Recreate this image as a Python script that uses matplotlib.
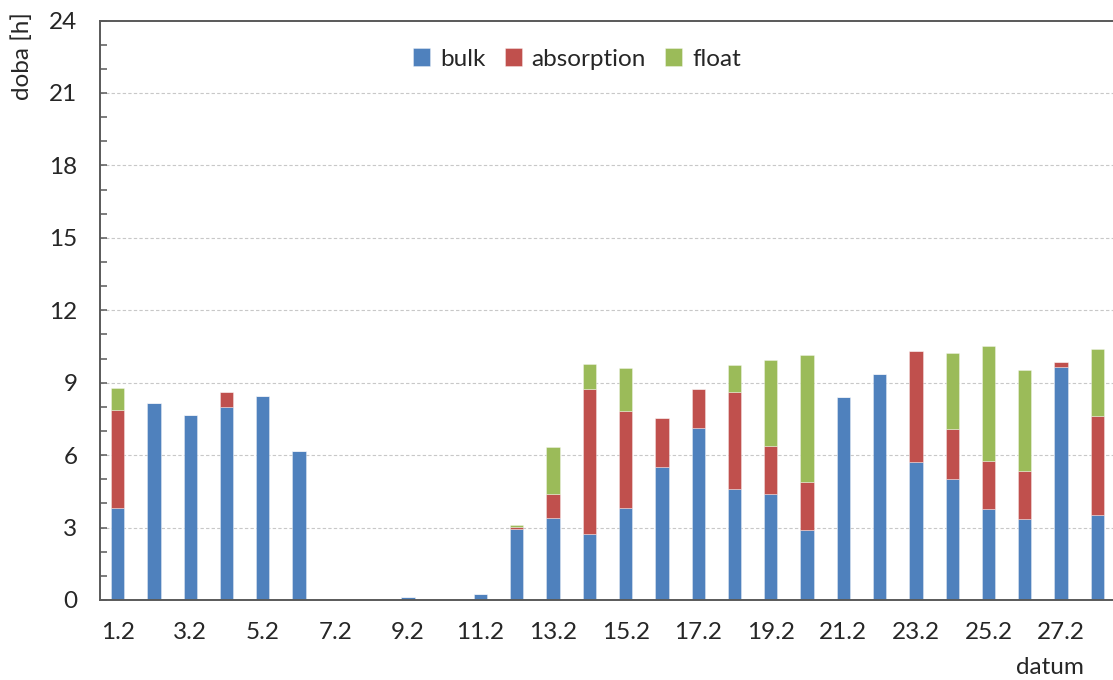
import matplotlib
matplotlib.use("Agg")
import matplotlib.pyplot as plt
import numpy as np
from matplotlib.ticker import MultipleLocator

plt.rcParams['font.family'] = ['Lato', 'DejaVu Sans']

# daily charging phase durations in hours
days = [f"{d}.2" for d in range(1, 29)]
bulk = [3.82, 8.16, 7.68, 8.00, 8.43, 6.16, 0.0, 0.0, 0.12, 0.0,
        0.23, 2.95, 3.41, 2.74, 3.82, 5.50, 7.12, 4.61, 4.40, 2.90,
        8.41, 9.36, 5.71, 5.03, 3.77, 3.35, 9.63, 3.52]
absorption = [4.03, 0.0, 0.0, 0.63, 0.0, 0.0, 0.0, 0.0, 0.0, 0.0,
              0.0, 0.07, 0.99, 5.99, 3.99, 2.02, 1.61, 4.02, 1.99, 1.97,
              0.0, 0.0, 4.59, 2.04, 2.00, 1.99, 0.24, 4.12]
float_ = [0.92, 0.0, 0.0, 0.0, 0.0, 0.0, 0.0, 0.0, 0.0, 0.0,
          0.0, 0.07, 1.93, 1.05, 1.80, 0.0, 0.0, 1.09, 3.54, 5.27,
          0.0, 0.0, 0.0, 3.18, 4.74, 4.18, 0.0, 2.76]

c_bulk = "#4F81BD"
c_abs = "#C0504D"
c_float = "#9BBB59"
axis_col = "#595959"
fs = 17.5

fig = plt.figure(figsize=(11.13, 6.8), dpi=100)
W, H = 1113, 680
ax = fig.add_axes([99.5 / W, (H - 600) / H, 1016 / W, 579.5 / H])

x = np.arange(len(days))
bw = 0.37
bulk_a = np.array(bulk)
abs_a = np.array(absorption)
flt_a = np.array(float_)
edge = dict(edgecolor=(1, 1, 1, 0.35), linewidth=0.7)
ax.bar(x, bulk_a, bw, color=c_bulk, label="bulk", **edge)
ax.bar(x, abs_a, bw, bottom=bulk_a, color=c_abs, label="absorption", **edge)
ax.bar(x, flt_a, bw, bottom=bulk_a + abs_a, color=c_float, label="float", **edge)

ax.set_xlim(-0.5, len(days) - 0.5)
ax.set_ylim(0, 24)
ax.yaxis.set_major_locator(MultipleLocator(3))
ax.yaxis.set_minor_locator(MultipleLocator(1))
ax.set_xticks(x[::2])
ax.set_xticklabels(days[::2])

ax.tick_params(axis='y', which='both', direction='in', length=5, width=1.1,
               color=axis_col, labelsize=fs, pad=16, labelcolor="#262626")
ax.tick_params(axis='x', length=0, labelsize=fs, pad=16, labelcolor="#262626")

for gy in range(3, 24, 3):
    ax.axhline(gy, color="#C8C8C8", lw=0.8, ls=(0, (3, 2)), zorder=0)

for side in ("left", "bottom", "top"):
    ax.spines[side].set_color(axis_col)
    ax.spines[side].set_linewidth(1.4)
ax.spines["right"].set_visible(False)
ax.set_axisbelow(True)

fig.text(22 / W, 1 - 12 / H, "doba [h]", rotation=90, ha="center", va="top",
         fontsize=fs, color="#262626")
fig.text(1050 / W, 1 - 667 / H, "datum", ha="center", va="center",
         fontsize=fs, color="#262626")

leg = ax.legend(loc="center", bbox_to_anchor=(577 / W, 1 - 59 / H),
                bbox_transform=fig.transFigure, ncol=3, frameon=False,
                fontsize=fs, handlelength=0.7, handleheight=0.7,
                handletextpad=0.4, columnspacing=0.8)
for t in leg.get_texts():
    t.set_color("#262626")

fig.savefig("out.png", dpi=100)
